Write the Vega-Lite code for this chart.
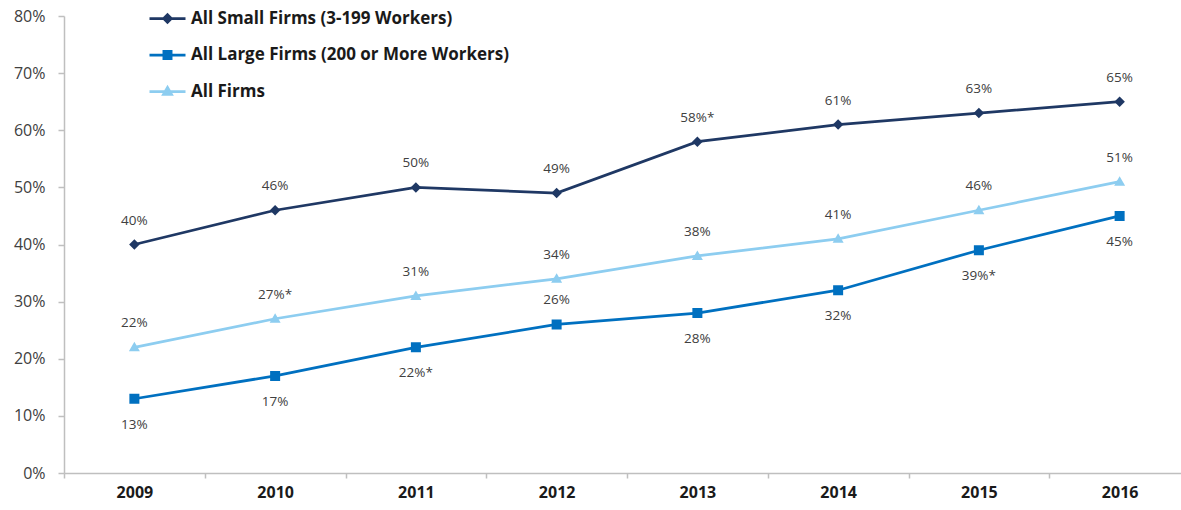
{
  "$schema": "https://vega.github.io/schema/vega-lite/v6.json",
  "width": 1126,
  "height": 457,
  "autosize": "none",
  "padding": {"left": 64, "top": 16, "right": 0, "bottom": 37},
  "background": "white",
  "config": {
    "view": {"stroke": null},
    "font": "Open Sans",
    "legend": {
      "orient": "none",
      "legendX": 84,
      "legendY": -17,
      "title": null,
      "padding": 0,
      "symbolSize": 1296,
      "symbolStrokeWidth": 2.75,
      "symbolOpacity": 1,
      "labelFont": "Open Sans",
      "labelFontSize": 17,
      "labelFontWeight": "bold",
      "labelColor": "#1a1a1a",
      "labelOffset": 4,
      "rowPadding": 7.5,
      "labelLimit": 500
    }
  },
  "data": {
    "values": [
      {"year": "2009", "series": "All Small Firms (3-199 Workers)", "value": 40, "label": "40%"},
      {"year": "2010", "series": "All Small Firms (3-199 Workers)", "value": 46, "label": "46%"},
      {"year": "2011", "series": "All Small Firms (3-199 Workers)", "value": 50, "label": "50%"},
      {"year": "2012", "series": "All Small Firms (3-199 Workers)", "value": 49, "label": "49%"},
      {"year": "2013", "series": "All Small Firms (3-199 Workers)", "value": 58, "label": "58%*"},
      {"year": "2014", "series": "All Small Firms (3-199 Workers)", "value": 61, "label": "61%"},
      {"year": "2015", "series": "All Small Firms (3-199 Workers)", "value": 63, "label": "63%"},
      {"year": "2016", "series": "All Small Firms (3-199 Workers)", "value": 65, "label": "65%"},
      {"year": "2009", "series": "All Large Firms (200 or More Workers)", "value": 13, "label": "13%"},
      {"year": "2010", "series": "All Large Firms (200 or More Workers)", "value": 17, "label": "17%"},
      {"year": "2011", "series": "All Large Firms (200 or More Workers)", "value": 22, "label": "22%*"},
      {"year": "2012", "series": "All Large Firms (200 or More Workers)", "value": 26, "label": "26%"},
      {"year": "2013", "series": "All Large Firms (200 or More Workers)", "value": 28, "label": "28%"},
      {"year": "2014", "series": "All Large Firms (200 or More Workers)", "value": 32, "label": "32%"},
      {"year": "2015", "series": "All Large Firms (200 or More Workers)", "value": 39, "label": "39%*"},
      {"year": "2016", "series": "All Large Firms (200 or More Workers)", "value": 45, "label": "45%"},
      {"year": "2009", "series": "All Firms", "value": 22, "label": "22%"},
      {"year": "2010", "series": "All Firms", "value": 27, "label": "27%*"},
      {"year": "2011", "series": "All Firms", "value": 31, "label": "31%"},
      {"year": "2012", "series": "All Firms", "value": 34, "label": "34%"},
      {"year": "2013", "series": "All Firms", "value": 38, "label": "38%"},
      {"year": "2014", "series": "All Firms", "value": 41, "label": "41%"},
      {"year": "2015", "series": "All Firms", "value": 46, "label": "46%"},
      {"year": "2016", "series": "All Firms", "value": 51, "label": "51%"}
    ]
  },
  "encoding": {
    "x": {
      "field": "year",
      "type": "ordinal",
      "sort": null,
      "scale": {"type": "band", "paddingInner": 0, "paddingOuter": 0},
      "axis": {
        "title": null,
        "labelAngle": 0,
        "tickBand": "extent",
        "domainColor": "#bfbfbf",
        "domainWidth": 1.5,
        "tickColor": "#bfbfbf",
        "tickWidth": 1.5,
        "tickSize": 5,
        "labelFont": "Open Sans",
        "labelFontSize": 16,
        "labelFontWeight": "bold",
        "labelColor": "#1a1a1a",
        "labelPadding": 6,
        "grid": false
      }
    },
    "y": {
      "field": "value",
      "type": "quantitative",
      "scale": {"domain": [0, 80]},
      "axis": {
        "title": null,
        "values": [0, 10, 20, 30, 40, 50, 60, 70, 80],
        "labelExpr": "datum.value + '%'",
        "domainColor": "#bfbfbf",
        "domainWidth": 1.5,
        "tickColor": "#bfbfbf",
        "tickWidth": 1.5,
        "tickSize": 6,
        "labelFont": "Open Sans",
        "labelFontSize": 16,
        "labelColor": "#404040",
        "labelPadding": 13,
        "grid": false
      }
    }
  },
  "layer": [
    {
      "mark": {"type": "line", "strokeWidth": 2.75},
      "encoding": {
        "color": {
          "field": "series",
          "type": "nominal",
          "scale": {
            "domain": ["All Small Firms (3-199 Workers)", "All Large Firms (200 or More Workers)", "All Firms"],
            "range": ["#1f3864", "#0070c0", "#8dcdf0"]
          }
        }
      }
    },
    {
      "mark": {"type": "point", "filled": true, "size": 2500, "opacity": 1},
      "encoding": {
        "color": {
          "field": "series",
          "type": "nominal",
          "scale": {
            "domain": ["All Small Firms (3-199 Workers)", "All Large Firms (200 or More Workers)", "All Firms"],
            "range": ["#1f3864", "#0070c0", "#8dcdf0"]
          }
        },
        "shape": {
          "field": "series",
          "type": "nominal",
          "scale": {
            "domain": ["All Small Firms (3-199 Workers)", "All Large Firms (200 or More Workers)", "All Firms"],
            "range": [
              "M-1,0H1M0,-0.21L0.21,0L0,0.21L-0.21,0Z",
              "M-1,0H1M-0.2,-0.2H0.2V0.2H-0.2Z",
              "M-1,0H1M0,-0.22L0.22,0.16H-0.22Z"
            ]
          }
        }
      }
    },
    {
      "transform": [{"filter": "datum.series != 'All Large Firms (200 or More Workers)' || datum.year == '2012'"}],
      "mark": {"type": "text", "dy": -24, "fontSize": 13.5, "font": "Open Sans", "color": "#404040", "baseline": "middle"},
      "encoding": {"text": {"field": "label"}}
    },
    {
      "transform": [{"filter": "datum.series == 'All Large Firms (200 or More Workers)' && datum.year != '2012'"}],
      "mark": {"type": "text", "dy": 26, "fontSize": 13.5, "font": "Open Sans", "color": "#404040", "baseline": "middle"},
      "encoding": {"text": {"field": "label"}}
    }
  ]
}
